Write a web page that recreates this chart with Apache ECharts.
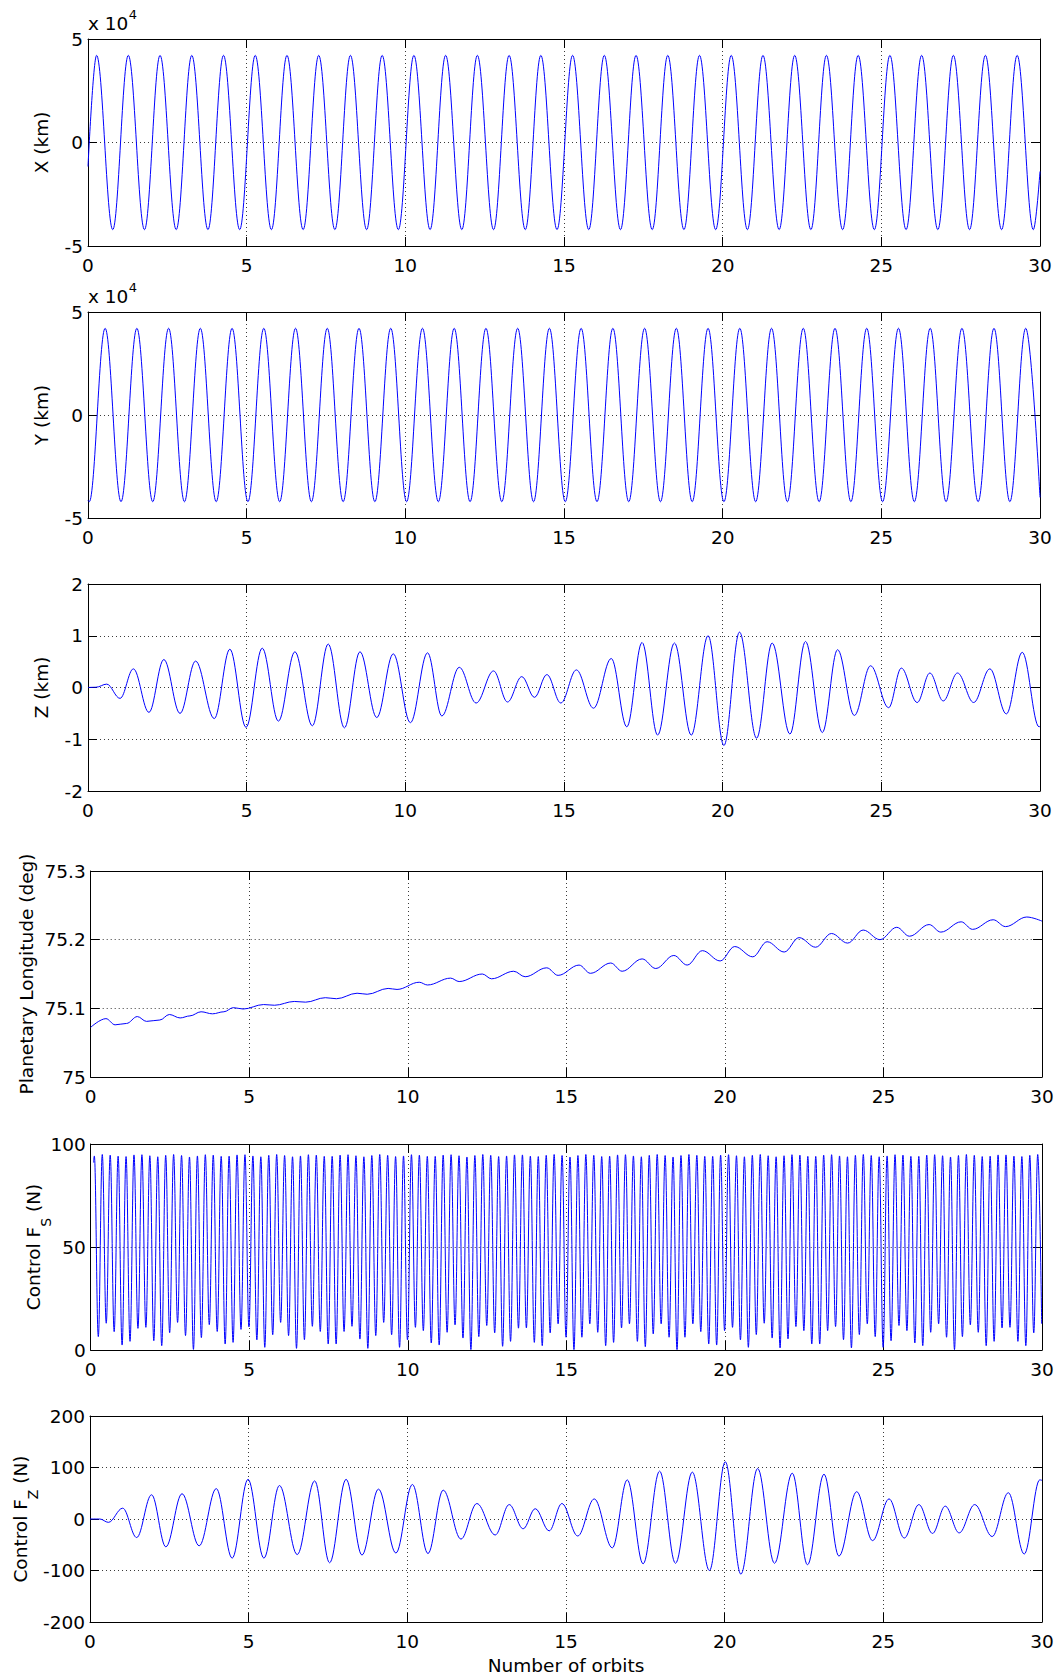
<!DOCTYPE html>
<html>
<head>
<meta charset="utf-8">
<title>Orbit states and control</title>
<script src="https://cdn.jsdelivr.net/npm/echarts/dist/echarts.min.js"></script>
<style>
html,body{margin:0;padding:0;background:#ffffff;}
#chart{width:1060px;height:1680px;}
</style>
</head>
<body>
<div id="chart"></div>
<script>
// ================= DATA =================
// X position (km): extrema of the oscillation [orbits, km]
const xExt = [[0,-11600],[0.27,42100],[0.78,-42100],[1.27,42100],[1.78,-42100],[2.27,42100],[2.78,-42100],[3.27,42100],[3.78,-42100],[4.27,42100],[4.78,-42100],[5.27,42100],[5.78,-42100],[6.27,42100],[6.78,-42100],[7.27,42100],[7.78,-42100],[8.27,42100],[8.78,-42100],[9.27,42100],[9.78,-42100],[10.27,42100],[10.78,-42100],[11.27,42100],[11.78,-42100],[12.27,42100],[12.78,-42100],[13.27,42100],[13.78,-42100],[14.27,42100],[14.78,-42100],[15.27,42100],[15.78,-42100],[16.27,42100],[16.78,-42100],[17.27,42100],[17.78,-42100],[18.27,42100],[18.78,-42100],[19.27,42100],[19.78,-42100],[20.27,42100],[20.78,-42100],[21.27,42100],[21.78,-42100],[22.27,42100],[22.78,-42100],[23.27,42100],[23.78,-42100],[24.27,42100],[24.78,-42100],[25.27,42100],[25.78,-42100],[26.27,42100],[26.78,-42100],[27.27,42100],[27.78,-42100],[28.28,42100],[28.79,-42100],[29.28,42100],[29.79,-42100],[30,-14000]];

// Y position (km)
const yExt = [[0,-41500],[0.04,-42100],[0.54,42100],[1.04,-42100],[1.54,42100],[2.04,-42100],[2.54,42100],[3.04,-42100],[3.54,42100],[4.04,-42100],[4.54,42100],[5.04,-42100],[5.54,42100],[6.04,-42100],[6.54,42100],[7.04,-42100],[7.54,42100],[8.04,-42100],[8.54,42100],[9.04,-42100],[9.54,42100],[10.04,-42100],[10.54,42100],[11.04,-42100],[11.54,42100],[12.04,-42100],[12.54,42100],[13.04,-42100],[13.54,42100],[14.04,-42100],[14.54,42100],[15.04,-42100],[15.54,42100],[16.04,-42100],[16.54,42100],[17.04,-42100],[17.54,42100],[18.04,-42100],[18.54,42100],[19.04,-42100],[19.54,42100],[20.04,-42100],[20.54,42100],[21.04,-42100],[21.54,42100],[22.04,-42100],[22.54,42100],[23.04,-42100],[23.54,42100],[24.04,-42100],[24.54,42100],[25.04,-42100],[25.54,42100],[26.04,-42100],[26.54,42100],[27.04,-42100],[27.54,42100],[28.05,-42100],[28.55,42100],[29.05,-42100],[29.55,42100],[30,-40000]];

// Z position (km)
const zExt = [[0,0],[0.25,0.005],[0.59,0.065],[1.01,-0.21],[1.43,0.36],[1.92,-0.48],[2.39,0.54],[2.90,-0.50],[3.39,0.51],[3.98,-0.60],[4.47,0.74],[4.98,-0.77],[5.49,0.76],[6.00,-0.65],[6.52,0.69],[7.07,-0.74],[7.57,0.84],[8.08,-0.78],[8.57,0.69],[9.10,-0.58],[9.62,0.65],[10.16,-0.68],[10.70,0.67],[11.15,-0.55],[11.70,0.39],[12.23,-0.30],[12.78,0.32],[13.22,-0.28],[13.67,0.21],[14.07,-0.19],[14.46,0.25],[14.90,-0.30],[15.39,0.34],[15.93,-0.40],[16.49,0.56],[16.98,-0.76],[17.46,0.87],[17.95,-0.92],[18.48,0.86],[19.01,-0.92],[19.54,1.00],[20.04,-1.12],[20.53,1.07],[21.07,-0.98],[21.56,0.86],[22.12,-0.90],[22.61,0.89],[23.14,-0.87],[23.62,0.73],[24.15,-0.54],[24.66,0.42],[25.23,-0.39],[25.63,0.375],[26.13,-0.29],[26.53,0.28],[26.95,-0.26],[27.40,0.28],[27.91,-0.29],[28.42,0.36],[28.94,-0.51],[29.44,0.68],[29.97,-0.76],[30,-0.75]];

// Planetary longitude (deg)
const lonExt = [[0,75.0724],[0.48,75.085],[0.77,75.076],[1.13,75.078],[1.47,75.088],[1.76,75.081],[2.18,75.083],[2.48,75.091],[2.82,75.086],[3.13,75.089],[3.48,75.095],[3.84,75.092],[4.2,75.095],[4.5,75.101],[4.81,75.099],[5.45,75.1055],[5.8,75.1045],[6.42,75.110],[6.78,75.109],[7.4,75.1155],[7.75,75.114],[8.4,75.122],[8.72,75.1205],[9.38,75.129],[9.66,75.1275],[10.36,75.138],[10.62,75.134],[11.35,75.144],[11.62,75.139],[12.35,75.150],[12.64,75.143],[13.34,75.154],[13.70,75.146],[14.38,75.159],[14.74,75.148],[15.40,75.163],[15.76,75.151],[16.40,75.166],[16.76,75.154],[17.39,75.172],[17.82,75.158],[18.39,75.177],[18.81,75.163],[19.29,75.184],[19.85,75.169],[20.31,75.190],[20.88,75.175],[21.33,75.197],[21.87,75.182],[22.34,75.203],[22.86,75.189],[23.36,75.209],[23.87,75.195],[24.36,75.214],[24.89,75.200],[25.42,75.218],[25.82,75.205],[26.44,75.222],[26.81,75.211],[27.45,75.226],[27.81,75.215],[28.46,75.229],[28.85,75.219],[29.52,75.233],[30,75.227]];

// Control Fs (N): peaks and cusps
const fsStart = [[0.09, 91]];
const fsPeakT = [0.115,0.365,0.615,0.865,1.115,1.365,1.615,1.865,2.115,2.365,2.615,2.865,3.115,3.365,3.615,3.865,4.115,4.365,4.615,4.865,5.115,5.365,5.615,5.865,6.115,6.365,6.615,6.865,7.115,7.365,7.615,7.865,8.115,8.365,8.615,8.865,9.115,9.365,9.615,9.865,10.115,10.365,10.615,10.865,11.115,11.365,11.615,11.865,12.115,12.365,12.615,12.865,13.115,13.365,13.615,13.865,14.115,14.365,14.615,14.865,15.115,15.365,15.615,15.865,16.115,16.365,16.615,16.865,17.115,17.365,17.615,17.865,18.115,18.365,18.615,18.865,19.115,19.365,19.615,19.865,20.115,20.365,20.615,20.865,21.115,21.365,21.615,21.865,22.115,22.365,22.615,22.865,23.115,23.365,23.615,23.865,24.115,24.365,24.615,24.865,25.115,25.365,25.615,25.865,26.115,26.365,26.615,26.865,27.115,27.365,27.615,27.865,28.115,28.365,28.615,28.865,29.115,29.365,29.615,29.865];
const fsPeakV = [94.2,94.9,94.6,94.1,93.9,94.7,94.8,94.3,93.8,94.5,94.9,94.4,93.7,94.2,94.8,94.6,94.0,94.1,94.7,94.8,94.2,93.8,94.5,94.9,94.4,93.8,94.2,94.8,94.6,94.0,94.0,94.6,94.8,94.3,93.8,94.4,94.9,94.5,93.9,94.2,94.8,94.6,94.0,94.0,94.6,94.8,94.3,93.7,94.4,94.9,94.5,93.9,94.2,94.7,94.7,94.1,93.9,94.5,94.9,94.4,93.7,94.4,94.9,94.5,93.9,94.1,94.7,94.8,94.2,93.8,94.5,94.9,94.4,93.7,94.4,94.9,94.5,94.0,94.0,94.6,94.8,94.3,93.8,94.5,94.9,94.3,93.8,94.3,94.8,94.6,94.0,94.0,94.6,94.8,94.2,93.8,94.5,94.9,94.4,93.8,94.2,94.8,94.6,94.0,94.0,94.6,94.8,94.3,93.7,94.4,94.9,94.5,93.9,94.1,94.7,94.7,94.1,93.9,94.5,94.9];
const fsCuspT = [0.24,0.49,0.74,0.99,1.24,1.49,1.74,1.99,2.24,2.49,2.74,2.99,3.24,3.49,3.74,3.99,4.24,4.49,4.74,4.99,5.24,5.49,5.74,5.99,6.24,6.49,6.74,6.99,7.24,7.49,7.74,7.99,8.24,8.49,8.74,8.99,9.24,9.49,9.74,9.99,10.24,10.49,10.74,10.99,11.24,11.49,11.74,11.99,12.24,12.49,12.74,12.99,13.24,13.49,13.74,13.99,14.24,14.49,14.74,14.99,15.24,15.49,15.74,15.99,16.24,16.49,16.74,16.99,17.24,17.49,17.74,17.99,18.24,18.49,18.74,18.99,19.24,19.49,19.74,19.99,20.24,20.49,20.74,20.99,21.24,21.49,21.74,21.99,22.24,22.49,22.74,22.99,23.24,23.49,23.74,23.99,24.24,24.49,24.74,24.99,25.24,25.49,25.74,25.99,26.24,26.49,26.74,26.99,27.24,27.49,27.74,27.99,28.24,28.49,28.74,28.99,29.24,29.49,29.74,29.99];
const fsCuspV = [6.5,13,8.9,2.4,4.2,10.5,11,4.5,2.1,8.4,13.4,7,0.3,6,12.3,9,2.9,3.7,10,11.2,4.9,1.3,7.4,13.4,7,0.8,5,11.5,9,2.9,2.9,9,11.5,5.3,0.8,7,13.4,7.4,1.3,4.9,11,9.4,3.4,2.4,8.6,12.2,5.8,0.2,6.5,11.9,8.3,1.8,4.2,10.6,10.7,3.7,2.1,8.3,12.7,6.2,0.2,6.2,12.7,8.6,2.1,3.7,10.7,12.7,4.2,1.6,7.8,12.7,6.2,0.2,6.2,12.7,8.9,2.9,2.4,9.4,11,4.9,1.3,7.5,13,5.8,1,5.4,11.4,9.4,2.9,2.9,9.4,11.4,5,1,7.5,12.7,6.5,1.3,4.5,11.9,9.4,3.4,2.1,8.6,12.7,6.2,0.2,6.5,12.2,8.6,2.1,4.2,10.7,11,4.2,2.1,8.3,12.7];

// Control Fz (N)
const fzExt = [[0,0],[0.31,0],[0.58,-6.5],[1.03,21],[1.47,-36],[1.94,47],[2.39,-54],[2.90,49],[3.44,-52],[3.98,59],[4.48,-76],[4.98,77],[5.48,-76],[5.97,65],[6.53,-69],[7.08,74],[7.55,-85],[8.07,77],[8.57,-70],[9.09,58],[9.64,-66],[10.16,67],[10.65,-67],[11.13,56],[11.69,-39],[12.19,30],[12.77,-31],[13.21,28],[13.65,-19],[14.03,20],[14.47,-23],[14.87,30],[15.37,-33],[15.89,39],[16.46,-56],[16.93,76],[17.43,-87],[17.95,93],[18.45,-86],[18.98,91],[19.52,-100],[20.02,111],[20.51,-107],[21.04,98],[21.57,-86],[22.13,89],[22.61,-89],[23.13,87],[23.60,-72],[24.16,53],[24.66,-42],[25.18,39],[25.66,-37],[26.12,28],[26.55,-28],[26.95,25],[27.39,-27],[27.88,28],[28.43,-34],[28.94,51],[29.44,-68],[29.93,76],[30,75]];

// axis scales and texts
const xRange = [0, 30, 5];
const yRanges = [[-50000,50000,50000],[-50000,50000,50000],[-2,2,1],[75,75.3,0.1],[0,100,50],[-200,200,100]];
const yTitles = ['X (km)','Y (km)','Z (km)','Planetary Longitude (deg)',['Control F','S',' (N)'],['Control F','Z',' (N)']];
const xTitle = 'Number of orbits';
const exponentText = ['x 10','4'];

// ================= build =================
const fsData = fsStart.slice();
for (let k = 0; k < fsPeakT.length; k++) {
  fsData.push([fsPeakT[k], fsPeakV[k]]);
  fsData.push([fsCuspT[k], fsCuspV[k]]);
}
const seriesData = [xExt, yExt, zExt, lonExt, fsData, fzExt];
const smoothness = [0.365, 0.365, 0.365, 0.365, 0.4, 0.365];

const FONT = 'DejaVu Sans';
const FS = 18.5;
const SUP = 13;
const SUB = 14;
const grids = [
  {left:88,   top:39,   width:952,   height:207},
  {left:88,   top:312,  width:952,   height:206},
  {left:88,   top:584,  width:952,   height:207},
  {left:90.7, top:871,  width:951.3, height:206},
  {left:90.7, top:1144, width:951.3, height:206},
  {left:90,   top:1416, width:952,   height:206}
];
const titleCX = [41, 41, 41, 26, 33.5, 20.3];
const subDX = [0,0,0,0,12.5,12.5];

const ctx = document.createElement('canvas').getContext('2d');
function textWidth(s, size) { ctx.font = size + 'px "' + FONT + '"'; return ctx.measureText(s).width; }

const xAxes = [], yAxes = [], series = [], graphics = [];
const tickStyle = {show:true, inside:true, length:9, lineStyle:{color:'#000', width:1}};
const lineStyle = {show:true, onZero:false, lineStyle:{color:'#000', width:1}};
const gridLineStyle = {show:true, lineStyle:{color:'#3a3a3a', width:1, type:[1,3]}};
const labelStyle = {color:'#000', fontFamily:FONT, fontSize:FS};

grids.forEach((g, i) => {
  xAxes.push({type:'value', gridIndex:i, position:'bottom', min:xRange[0], max:xRange[1], interval:xRange[2],
    axisLine:lineStyle, axisTick:tickStyle, splitLine:gridLineStyle,
    axisLabel:Object.assign({show:true, margin:10}, labelStyle)});
  xAxes.push({type:'value', gridIndex:i, position:'top', min:xRange[0], max:xRange[1], interval:xRange[2],
    axisLine:lineStyle, axisTick:tickStyle, splitLine:{show:false}, axisLabel:{show:false}});
  const yr = yRanges[i];
  const fmt = (i < 2) ? (v => String(Math.round(v / 10000))) : undefined;
  yAxes.push({type:'value', gridIndex:i, position:'left', min:yr[0], max:yr[1], interval:yr[2],
    axisLine:lineStyle, axisTick:tickStyle, splitLine:gridLineStyle,
    axisLabel:Object.assign({show:true, margin:5, formatter:fmt}, labelStyle)});
  yAxes.push({type:'value', gridIndex:i, position:'right', min:yr[0], max:yr[1], interval:yr[2],
    axisLine:lineStyle, axisTick:tickStyle, splitLine:{show:false}, axisLabel:{show:false}});
  series.push({type:'line', xAxisIndex:2*i, yAxisIndex:2*i, data:seriesData[i],
    showSymbol:false, symbol:'none', smooth:smoothness[i], smoothMonotone:'x',
    lineStyle:{color:'#0000ff', width:1}, animation:false, silent:true, z:3});

  // y axis titles (rotated, reading bottom to top)
  const cy = g.top + g.height / 2;
  const t = yTitles[i];
  const base = {fontFamily:FONT, fill:'#000'};
  if (typeof t === 'string') {
    graphics.push({type:'text', x:titleCX[i], y:cy, rotation:Math.PI/2, silent:true,
      style:Object.assign({text:t, fontSize:FS, align:'center', verticalAlign:'middle', textAlign:'center', textVerticalAlign:'middle'}, base)});
  } else {
    const w1 = textWidth(t[0], FS), w2 = textWidth(t[1], SUB), w3 = textWidth(t[2], FS);
    const y0 = cy + (w1 + w2 + w3) / 2;
    graphics.push({type:'text', x:titleCX[i], y:y0, rotation:Math.PI/2, silent:true,
      style:Object.assign({text:t[0], fontSize:FS, align:'left', verticalAlign:'middle', textAlign:'left', textVerticalAlign:'middle'}, base)});
    graphics.push({type:'text', x:titleCX[i] + subDX[i], y:y0 - w1, rotation:Math.PI/2, silent:true,
      style:Object.assign({text:t[1], fontSize:SUB, align:'left', verticalAlign:'middle', textAlign:'left', textVerticalAlign:'middle'}, base)});
    graphics.push({type:'text', x:titleCX[i], y:y0 - w1 - w2, rotation:Math.PI/2, silent:true,
      style:Object.assign({text:t[2], fontSize:FS, align:'left', verticalAlign:'middle', textAlign:'left', textVerticalAlign:'middle'}, base)});
  }
  // exponent label for the first two panels
  if (i < 2) {
    const wx = textWidth(exponentText[0], FS);
    graphics.push({type:'text', x:g.left, y:g.top - 15.4, silent:true,
      style:{text:exponentText[0], fontFamily:FONT, fontSize:FS, fill:'#000', align:'left', verticalAlign:'middle', textAlign:'left', textVerticalAlign:'middle'}});
    graphics.push({type:'text', x:g.left + wx + 0.5, y:g.top - 25, silent:true,
      style:{text:exponentText[1], fontFamily:FONT, fontSize:SUP, fill:'#000', align:'left', verticalAlign:'middle', textAlign:'left', textVerticalAlign:'middle'}});
  }
});
graphics.push({type:'text', x:grids[5].left + grids[5].width / 2, y:1665.5, silent:true,
  style:{text:xTitle, fontFamily:FONT, fontSize:FS, fill:'#000', align:'center', verticalAlign:'middle', textAlign:'center', textVerticalAlign:'middle'}});

const chart = echarts.init(document.getElementById('chart'), null, {renderer:'svg', width:1060, height:1680});
chart.setOption({
  backgroundColor:'#ffffff',
  animation:false,
  textStyle:{fontFamily:FONT},
  grid:grids.map(g => Object.assign({containLabel:false, show:false}, g)),
  xAxis:xAxes,
  yAxis:yAxes,
  series:series,
  graphic:{elements:graphics}
});
</script>
</body>
</html>
